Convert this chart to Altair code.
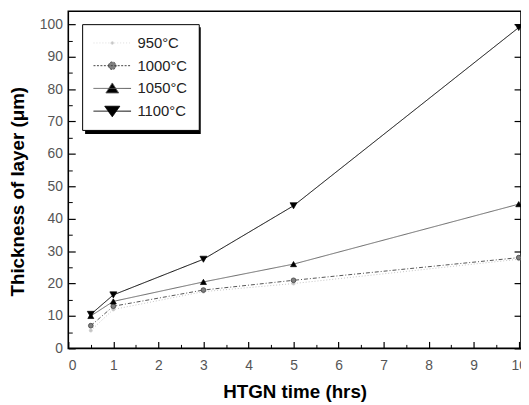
import altair as alt
import pandas as pd

# ---- data ----
times = [0.5, 1, 3, 5, 10]
series = ["950°C", "1000°C", "1050°C", "1100°C"]
t950 = [5.5, 12.0, 17.5, 20.0, 27.5]
t1000 = [7.0, 13.0, 18.0, 21.0, 28.0]
t1050 = [10.0, 14.5, 20.5, 26.0, 44.5]
t1100 = [10.5, 16.5, 27.5, 44.0, 99.0]
x_major = [0, 1, 2, 3, 4, 5, 6, 7, 8, 9, 10]
x_minor = [0.5, 1.5, 2.5, 3.5, 4.5, 5.5, 6.5, 7.5, 8.5, 9.5]
y_major = [0, 10, 20, 30, 40, 50, 60, 70, 80, 90, 100]
y_minor = [5, 15, 25, 35, 45, 55, 65, 75, 85, 95]

rows = []
for name, vals in zip(series, [t950, t1000, t1050, t1100]):
    for t, v in zip(times, vals):
        rows.append({"time": t, "thick": v, "series": name})
df = pd.DataFrame(rows)

# ---- styles ----
line_colors = ["#c4c4c4", "#555555", "#666666", "#000000"]
line_dash = [[1, 2], [4, 2, 1, 2], [1, 0], [1, 0]]
marker_shapes = ["circle", "circle", "triangle-up", "triangle-down"]
marker_fill = ["#c4c4c4", "#808080", "#000000", "#000000"]
marker_stroke = ["#cccccc", "#333333", "#000000", "#000000"]
marker_size = [10, 50, 80, 95]
legend_paths = [
    "M-1,0H1M-0.08,0A0.08,0.08 0 1,0 0.08,0A0.08,0.08 0 1,0 -0.08,0Z",
    "M-1,0H1M-0.2,0A0.2,0.2 0 1,0 0.2,0A0.2,0.2 0 1,0 -0.2,0Z",
    "M-1,0H1M-0.34,0.24L0.34,0.24L0,-0.29Z",
    "M-1,0H1M-0.4,-0.26L0.4,-0.26L0,0.3Z",
]
legend_stroke = ["#dddddd", "#444444", "#555555", "#000000"]
legend_dash = [[1, 2], [2, 1.5], [1, 0], [1, 0]]

W, H = 458, 341
xs = alt.Scale(domain=[0, 10.05], nice=False)
ys = alt.Scale(domain=[0, 104], nice=False)
lab_font = "Liberation Sans"
title_font = "Liberation Sans"

x_major_axis = alt.Axis(values=x_major, orient="bottom", offset=-7, tickSize=7, domain=False,
                        grid=False, labelPadding=10, labelFont=lab_font, labelFontSize=14,
                        labelColor="#555555", tickColor="black", tickWidth=1.2,
                        title="HTGN time (hrs)", titleFont=title_font, titleFontSize=19,
                        titleFontWeight="bold", titleColor="black", titleY=51,
                        titleBaseline="middle")
x_minor_axis = alt.Axis(values=x_minor, orient="bottom", offset=-4, tickSize=4, domain=False,
                        grid=False, labels=False, tickColor="black", tickWidth=1, title=None)
y_major_axis = alt.Axis(values=y_major, orient="left", offset=-7, tickSize=7, domain=False,
                        grid=False, labelPadding=6, labelFont=lab_font, labelFontSize=14,
                        labelColor="#555555", tickColor="black", tickWidth=1.2,
                        title="Thickness of layer (μm)", titleFont=title_font, titleFontSize=19,
                        titleFontWeight="bold", titleColor="black", titleX=-58, titleY=182,
                        titleBaseline="middle", titleAngle=270)
y_minor_axis = alt.Axis(values=y_minor, orient="left", offset=-4, tickSize=4, domain=False,
                        grid=False, labels=False, tickColor="black", tickWidth=1, title=None)
y_right_axis = alt.Axis(values=y_major, orient="right", offset=-7, tickSize=7, domain=False,
                        grid=False, labels=False, tickColor="black", tickWidth=1.2, title=None)

base = alt.Chart(df)

lines = base.mark_line(strokeWidth=1).encode(
    x=alt.X("time:Q", scale=xs, axis=x_major_axis),
    y=alt.Y("thick:Q", scale=ys, axis=y_major_axis),
    color=alt.Color("series:N", scale=alt.Scale(domain=series, range=line_colors), legend=None),
    strokeDash=alt.StrokeDash("series:N", scale=alt.Scale(domain=series, range=line_dash), legend=None),
    detail="series:N",
)

points = base.mark_point(filled=True, opacity=1, strokeWidth=0.7).encode(
    x=alt.X("time:Q", scale=xs, axis=x_minor_axis),
    y=alt.Y("thick:Q", scale=ys, axis=y_minor_axis),
    shape=alt.Shape("series:N", scale=alt.Scale(domain=series, range=marker_shapes), legend=None),
    fill=alt.Fill("series:N", scale=alt.Scale(domain=series, range=marker_fill), legend=None),
    stroke=alt.Stroke("series:N", scale=alt.Scale(domain=series, range=marker_stroke), legend=None),
    size=alt.Size("series:N", scale=alt.Scale(domain=series, range=marker_size), legend=None),
)

leg = alt.Legend(title=None, orient="none", legendX=14, legendY=13, padding=11,
                 strokeColor="black", fillColor="white", symbolSize=1444, clipHeight=16,
                 rowPadding=7, labelFont=lab_font, labelFontSize=15, labelColor="#222222",
                 labelOffset=6, symbolStrokeWidth=1)

legend_layer = base.transform_filter("false").mark_point(filled=True, opacity=1, size=1444, strokeWidth=1).encode(
    x=alt.X("time:Q", scale=xs, axis=None),
    y=alt.Y("thick:Q", scale=ys, axis=y_right_axis),
    shape=alt.Shape("series:N", scale=alt.Scale(domain=series, range=legend_paths), legend=leg),
    fill=alt.Fill("series:N", scale=alt.Scale(domain=series, range=marker_fill), legend=leg),
    stroke=alt.Stroke("series:N", scale=alt.Scale(domain=series, range=legend_stroke), legend=leg),
    strokeDash=alt.StrokeDash("series:N", scale=alt.Scale(domain=series, range=legend_dash), legend=leg),
)

shadow = alt.Chart(alt.Data(values=[{}])).mark_rect(color="black").encode(
    x=alt.value(17), x2=alt.value(134), y=alt.value(16), y2=alt.value(124)
)

chart = alt.layer(shadow, lines, points, legend_layer).resolve_axis(
    x="independent", y="independent"
).resolve_scale(
    shape="independent", fill="independent", stroke="independent",
    strokeDash="independent", size="independent", color="independent"
).properties(
    width=W, height=H,
    autosize=alt.AutoSizeParams(type="none"),
    padding={"left": 61, "top": 1, "right": 0, "bottom": 60},
).configure_view(stroke="black", strokeWidth=1.6)

chart.save("out.html", embed_options={"renderer": "svg", "actions": False})
